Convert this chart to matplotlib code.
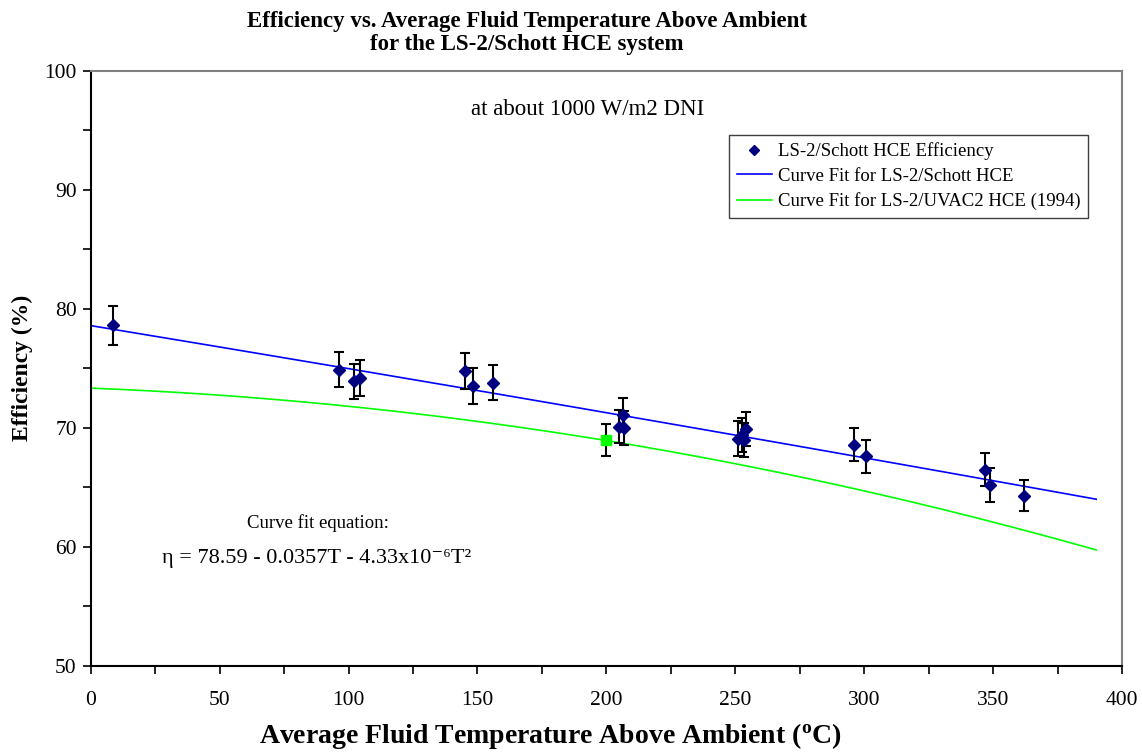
import numpy as np
import matplotlib
matplotlib.use("Agg")
import matplotlib.pyplot as plt
from matplotlib.ticker import MultipleLocator

# measured efficiency points (LS-2 / Schott HCE)
temp = [8.5, 96.2, 102.3, 104.5, 145.3, 148.2, 156.0, 204.8, 206.7, 206.5,
        251.2, 252.5, 253.5, 254.0, 296.1, 300.6, 347.0, 348.7, 361.9]
eff = [78.6, 74.9, 73.9, 74.2, 74.8, 73.5, 73.8, 70.1, 70.0, 71.1,
       69.1, 69.4, 69.0, 69.9, 68.6, 67.6, 66.5, 65.2, 64.3]
err = [1.6, 1.5, 1.5, 1.5, 1.5, 1.5, 1.45, 1.4, 1.4, 1.4,
       1.45, 1.45, 1.45, 1.4, 1.4, 1.4, 1.4, 1.4, 1.3]

# single UVAC2 point
uvac_t = [200.0]
uvac_eff = [69.0]
uvac_err = [1.35]

# curve fit coefficients
schott_fit = [78.59, -0.0357, -4.33e-6]
uvac_fit = [73.34, -0.00851, -6.755e-5]
t_max = 390

plt.rcParams['font.family'] = ['Liberation Serif', 'DejaVu Serif']
plt.rcParams['mathtext.fontset'] = 'custom'
plt.rcParams['mathtext.rm'] = 'Liberation Serif'
plt.rcParams['mathtext.bf'] = 'Liberation Serif:bold'

W, H = 1142, 755
fig = plt.figure(figsize=(W / 100, H / 100), dpi=100)
ax = fig.add_axes([90.7 / W, 1 - 666 / H, (1122 - 90.7) / W, (666 - 70.7) / H])

tt = np.linspace(0, t_max, 200)
ax.plot(tt, schott_fit[0] + schott_fit[1] * tt + schott_fit[2] * tt**2,
        color='#0000FF', lw=1.2, label='Curve Fit for LS-2/Schott HCE', zorder=2)
ax.plot(tt, uvac_fit[0] + uvac_fit[1] * tt + uvac_fit[2] * tt**2,
        color='#00FF00', lw=1.2, label='Curve Fit for LS-2/UVAC2 HCE (1994)', zorder=2)

ax.errorbar(temp, eff, yerr=err, fmt='none', ecolor='black', elinewidth=1.5,
            capsize=3.8, capthick=1.5, zorder=3)
ax.plot(temp, eff, 'D', color='#000080', ms=6.5, ls='none',
        label='LS-2/Schott HCE Efficiency', zorder=4)
ax.errorbar(uvac_t, uvac_eff, yerr=uvac_err, fmt='none', ecolor='black',
            elinewidth=1.5, capsize=3.8, capthick=1.5, zorder=3)
ax.plot(uvac_t, uvac_eff, 's', color='#00FF00', ms=6.5, ls='none', zorder=4)

ax.set_xlim(0, 400)
ax.set_ylim(50, 100)
ax.xaxis.set_major_locator(MultipleLocator(50))
ax.xaxis.set_minor_locator(MultipleLocator(25))
ax.yaxis.set_major_locator(MultipleLocator(10))
ax.yaxis.set_minor_locator(MultipleLocator(5))
ax.tick_params(which='both', direction='out', length=6, width=1.2,
               labelsize=15.5, top=False, right=False)
ax.tick_params(axis='x', pad=12)
ax.tick_params(axis='y', pad=4)
for s in ['left', 'bottom']:
    ax.spines[s].set_linewidth(1.5)
    ax.spines[s].set_color('black')
for s in ['top', 'right']:
    ax.spines[s].set_linewidth(1.5)
    ax.spines[s].set_color('#808080')

ax.set_ylabel('Efficiency (%)', fontsize=17, fontweight='bold', labelpad=8)
fig.text(550 / W, 1 - 736 / H,
         r'Average Fluid Temperature Above Ambient ($\mathbf{^{o}}$C)',
         ha='center', va='center', fontsize=20, fontweight='bold')
fig.text(527 / W, 1 - 33 / H,
         'Efficiency vs. Average Fluid Temperature Above Ambient\nfor the LS-2/Schott HCE system',
         ha='center', va='center', fontsize=16.5, fontweight='bold', linespacing=1.15)

ax.text(192.9, 96.7, 'at about 1000 W/m2 DNI', ha='center', va='center', fontsize=16.5)
ax.text(88.2, 62.0, 'Curve fit equation:', ha='center', va='center', fontsize=13.5)
ax.text(87.5, 59.05, 'η = 78.59 - 0.0357T - 4.33x10⁻⁶T²',
        ha='center', va='center', fontsize=16)

handles, labels = ax.get_legend_handles_labels()
order = [2, 0, 1]
leg = ax.legend([handles[i] for i in order], [labels[i] for i in order],
                loc='upper right', bbox_to_anchor=(1088 / W, 1 - 135 / H),
                bbox_transform=fig.transFigure, borderaxespad=0, fontsize=13.5,
                frameon=True, fancybox=False, framealpha=1, edgecolor='#404040',
                handlelength=1.9, handletextpad=0.3, labelspacing=0.4,
                borderpad=0.4, markerscale=0.8)
leg.get_frame().set_linewidth(1.0)

fig.savefig('out.png', dpi=100)
